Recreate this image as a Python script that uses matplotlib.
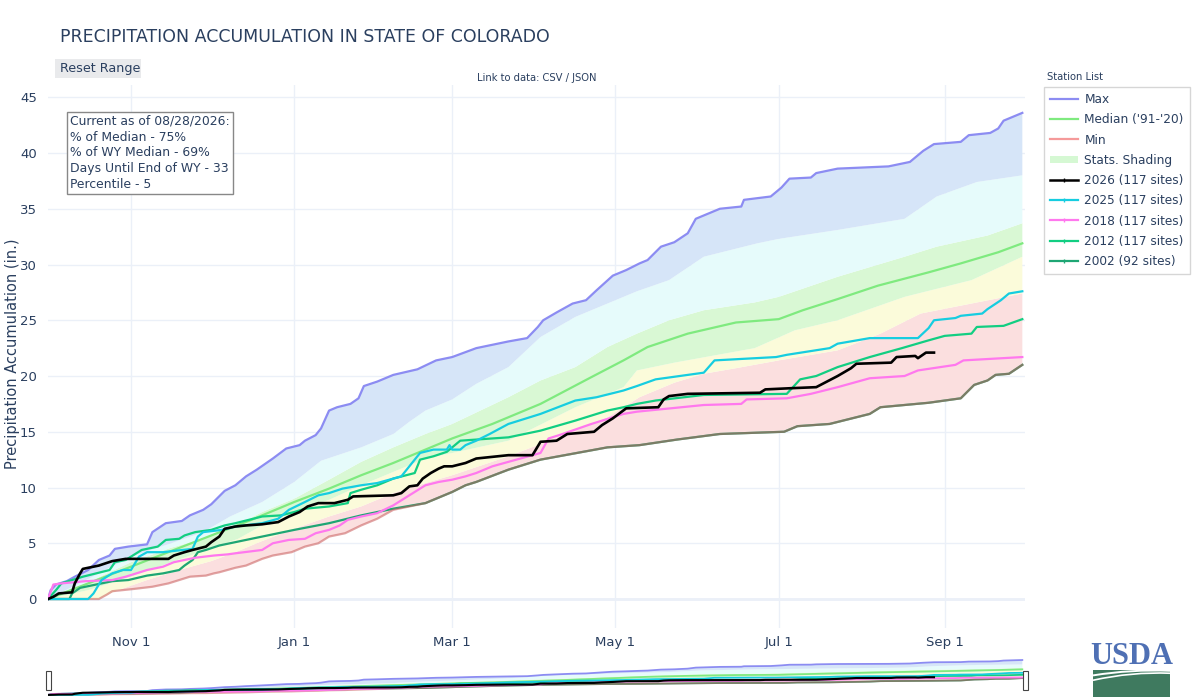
import numpy as np
import matplotlib
matplotlib.use('Agg')
import matplotlib.pyplot as plt
from matplotlib.lines import Line2D
from matplotlib.patches import Patch, Rectangle, PathPatch
from matplotlib.path import Path

# ---------------- data (day offsets from start of water year, inches) ----------------
WY_START = '2025-10-01'

max_days = [0, 1, 3, 7, 10, 15, 19, 23, 25, 30, 37, 39, 44, 50, 53, 58, 61, 66, 70, 74, 78, 84, 89, 94, 96,
            100, 102, 105, 108, 113, 116, 118, 123, 129, 138, 145, 151, 160, 172, 179, 183, 185, 190, 196,
            201, 205, 211, 216, 221, 224, 229, 234, 239, 242, 247, 251, 259, 260, 270, 274, 277, 285, 287,
            295, 314, 322, 327, 331, 341, 344, 352, 355, 357, 360, 364]
max_vals = [0, 0.8, 1.3, 1.6, 2.0, 2.6, 3.5, 3.9, 4.5, 4.7, 4.9, 6.0, 6.8, 7.0, 7.5, 8.0, 8.5, 9.7, 10.2, 11.0,
            11.6, 12.6, 13.5, 13.8, 14.2, 14.7, 15.3, 16.9, 17.2, 17.5, 18.0, 19.1, 19.5, 20.1, 20.6, 21.4,
            21.7, 22.5, 23.1, 23.4, 24.4, 25.0, 25.7, 26.5, 26.8, 27.7, 29.0, 29.5, 30.1, 30.4, 31.6, 32.0,
            32.8, 34.1, 34.6, 35.0, 35.2, 35.8, 36.1, 36.9, 37.7, 37.8, 38.2, 38.6, 38.8, 39.2, 40.2, 40.8,
            41.0, 41.6, 41.8, 42.2, 42.9, 43.2, 43.6]

p90_days = [0, 15, 31, 46, 58, 68, 80, 92, 102, 117, 129, 135, 141, 151, 160, 172, 184, 197, 209, 220, 232,
            245, 265, 273, 295, 320, 332, 347, 364]
p90_vals = [0, 1.8, 3.8, 5.0, 6.0, 7.4, 8.7, 10.5, 12.4, 13.6, 14.8, 15.9, 16.9, 17.9, 19.3, 20.8, 23.5,
            25.3, 26.5, 27.6, 28.6, 30.7, 31.9, 32.3, 33.1, 34.1, 36.1, 37.4, 38.0]

p70_days = [0, 15, 31, 46, 58, 71, 80, 92, 105, 117, 129, 141, 151, 172, 184, 197, 209, 220, 232, 245, 264,
            273, 295, 320, 332, 351, 364]
p70_vals = [0, 1.5, 3.3, 4.6, 5.4, 6.7, 7.8, 9.0, 10.7, 12.3, 13.6, 14.8, 15.7, 18.1, 19.6, 20.8, 22.6, 23.8,
            25.0, 25.9, 26.6, 27.1, 28.9, 30.7, 31.6, 32.6, 33.7]

median_days = [0, 15, 31, 46, 61, 76, 92, 105, 117, 129, 141, 151, 166, 184, 203, 215, 224, 239, 257, 273,
               282, 295, 310, 329, 341, 355, 364]
median_vals = [0, 1.4, 2.9, 4.3, 5.7, 7.1, 8.7, 9.9, 11.1, 12.2, 13.4, 14.4, 15.7, 17.5, 19.9, 21.4, 22.6,
               23.8, 24.8, 25.1, 25.9, 26.9, 28.1, 29.3, 30.1, 31.1, 31.9]

p30_days = [0, 15, 31, 46, 71, 80, 92, 105, 117, 129, 141, 151, 172, 197, 215, 220, 234, 264, 279, 295, 320,
            345, 364]
p30_vals = [0, 0.8, 2.0, 3.3, 5.4, 6.6, 7.8, 8.9, 10.2, 11.4, 12.6, 13.1, 14.2, 17.2, 19.0, 20.5, 21.2, 22.5,
            24.1, 25.0, 27.1, 28.6, 30.7]

p10_days = [0, 19, 24, 37, 49, 61, 70, 80, 92, 105, 117, 129, 141, 151, 172, 184, 209, 221, 234, 245, 257,
            273, 295, 311, 326, 345, 364]
p10_vals = [0, 0, 0.6, 1.7, 2.6, 3.4, 4.2, 5.2, 6.3, 7.4, 8.3, 9.5, 10.4, 11.1, 12.8, 13.9, 16.3, 18.1, 19.4,
            20.2, 20.7, 21.4, 22.3, 23.8, 25.6, 26.5, 27.4]

min_days = [0, 19, 22, 24, 32, 39, 45, 49, 53, 59, 62, 64, 70, 74, 80, 84, 91, 96, 101, 105, 111, 117, 123,
            129, 141, 151, 156, 160, 172, 184, 209, 221, 235, 251, 275, 280, 292, 307, 311, 329, 341, 346,
            351, 354, 359, 364]
min_vals = [0, 0, 0.4, 0.7, 0.9, 1.1, 1.4, 1.7, 2.0, 2.1, 2.3, 2.4, 2.8, 3.0, 3.6, 3.9, 4.2, 4.7, 5.0, 5.6,
            5.9, 6.6, 7.2, 8.0, 8.6, 9.6, 10.2, 10.5, 11.6, 12.5, 13.6, 13.8, 14.3, 14.8, 15.0, 15.5, 15.7,
            16.6, 17.2, 17.6, 18.0, 19.2, 19.6, 20.1, 20.2, 21.0]

y2026_days = [0, 2, 4, 9, 10, 12, 13, 15, 19, 24, 29, 45, 47, 51, 54, 59, 61, 64, 66, 70, 74, 80, 86, 90, 94,
              97, 101, 107, 112, 114, 129, 132, 135, 138, 140, 143, 146, 148, 151, 156, 160, 172, 181, 184,
              190, 194, 204, 207, 211, 216, 228, 230, 232, 239, 266, 268, 277, 287, 291, 295, 300, 302, 315,
              317, 324, 325, 328, 331]
y2026_vals = [0, 0.2, 0.5, 0.6, 1.4, 2.3, 2.7, 2.8, 3.0, 3.4, 3.6, 3.6, 3.9, 4.2, 4.4, 4.7, 5.1, 5.6, 6.3,
              6.5, 6.6, 6.7, 6.9, 7.4, 7.8, 8.3, 8.6, 8.6, 8.9, 9.2, 9.3, 9.5, 10.1, 10.2, 10.8, 11.3, 11.7,
              11.9, 11.9, 12.2, 12.6, 12.9, 12.9, 14.1, 14.2, 14.8, 15.0, 15.6, 16.2, 17.1, 17.2, 17.9, 18.2,
              18.4, 18.5, 18.8, 18.9, 19.0, 19.5, 20.0, 20.7, 21.1, 21.2, 21.7, 21.8, 21.6, 22.1, 22.1]

y2025_days = [0, 15, 17, 20, 24, 28, 31, 34, 37, 43, 54, 56, 58, 65, 70, 80, 86, 90, 96, 101, 105, 110, 117,
              123, 132, 135, 139, 144, 149, 150, 151, 154, 156, 160, 165, 172, 184, 197, 205, 215, 220, 227,
              245, 249, 272, 276, 292, 295, 307, 325, 329, 331, 339, 341, 349, 351, 356, 359, 364]
y2025_vals = [0, 0, 0.5, 1.7, 2.3, 2.6, 2.6, 3.8, 4.2, 4.2, 4.5, 5.6, 6.0, 6.2, 6.5, 6.8, 7.2, 8.0, 8.7, 9.3,
              9.5, 9.9, 10.2, 10.4, 11.0, 11.9, 13.1, 13.4, 13.4, 13.8, 13.4, 13.4, 13.8, 14.2, 14.8, 15.7,
              16.6, 17.8, 18.1, 18.7, 19.1, 19.7, 20.3, 21.4, 21.7, 21.9, 22.5, 22.9, 23.4, 23.4, 24.3, 25.0,
              25.2, 25.4, 25.6, 26.0, 26.8, 27.4, 27.6]

y2018_days = [0, 2, 5, 14, 24, 29, 33, 37, 43, 47, 51, 55, 62, 67, 70, 80, 84, 90, 96, 100, 105, 109, 112,
              117, 123, 129, 135, 141, 146, 151, 156, 160, 166, 175, 184, 187, 191, 203, 215, 220, 245, 259,
              261, 276, 285, 295, 307, 320, 325, 339, 342, 364]
y2018_vals = [0, 1.3, 1.4, 1.6, 1.7, 2.0, 2.3, 2.6, 2.9, 3.3, 3.5, 3.7, 3.9, 4.0, 4.1, 4.4, 5.0, 5.3, 5.4,
              5.9, 6.2, 6.6, 7.1, 7.4, 7.7, 8.4, 9.3, 10.2, 10.5, 10.7, 11.0, 11.3, 11.9, 12.5, 13.1, 14.4,
              14.7, 15.7, 16.6, 16.8, 17.4, 17.5, 17.9, 18.0, 18.4, 19.0, 19.8, 20.0, 20.5, 21.0, 21.4, 21.7]

y2012_days = [0, 3, 5, 9, 13, 18, 23, 25, 29, 35, 41, 44, 49, 51, 55, 61, 66, 70, 80, 87, 92, 96, 105, 112,
              113, 117, 123, 129, 137, 139, 144, 149, 154, 160, 172, 184, 197, 209, 215, 220, 227, 245, 276,
              281, 287, 295, 307, 319, 329, 335, 345, 347, 357, 364]
y2012_vals = [0, 0.8, 1.4, 1.7, 2.0, 2.3, 2.6, 3.3, 3.5, 4.4, 4.7, 5.3, 5.4, 5.7, 6.0, 6.2, 6.6, 6.8, 7.4,
              7.5, 7.8, 8.1, 8.3, 8.6, 9.5, 9.8, 10.2, 10.8, 11.3, 12.5, 12.8, 13.2, 14.2, 14.3, 14.5, 15.1,
              16.0, 16.9, 17.2, 17.5, 17.8, 18.3, 18.4, 19.7, 20.0, 20.8, 21.7, 22.5, 23.2, 23.6, 23.8, 24.4,
              24.5, 25.1]

y2002_days = [0, 8, 9, 12, 18, 24, 30, 37, 43, 49, 51, 54, 56, 59, 64, 70, 80, 92, 105, 117, 123, 129, 141,
              151, 156, 160, 172, 184, 209, 221, 235, 251, 275, 280, 292, 307, 311, 329, 341, 346, 351, 354,
              359, 364]
y2002_vals = [0, 0, 0.5, 1.0, 1.3, 1.6, 1.7, 2.1, 2.3, 2.6, 3.0, 3.5, 4.2, 4.4, 4.8, 5.1, 5.6, 6.2, 6.8, 7.5,
              7.8, 8.1, 8.6, 9.6, 10.2, 10.5, 11.6, 12.5, 13.6, 13.8, 14.3, 14.8, 15.0, 15.5, 15.7, 16.6,
              17.2, 17.6, 18.0, 19.2, 19.6, 20.1, 20.2, 21.0]

tick_dates = ['2025-11-01', '2026-01-01', '2026-03-01', '2026-05-01', '2026-07-01', '2026-09-01']
tick_labels = ['Nov 1', 'Jan 1', 'Mar 1', 'May 1', 'Jul 1', 'Sep 1']
y_ticks = [0, 5, 10, 15, 20, 25, 30, 35, 40, 45]

legend_labels = ['Max', "Median ('91-'20)", 'Min', 'Stats. Shading', '2026 (117 sites)',
                 '2025 (117 sites)', '2018 (117 sites)', '2012 (117 sites)', '2002 (92 sites)']
info_lines = ['Current as of 08/28/2026:', '% of Median - 75%', '% of WY Median - 69%',
              'Days Until End of WY - 33', 'Percentile - 5']

# ---------------- styling ----------------
TXT = '#2A3F5F'
GRID = '#EBF0F8'
C_MAX = '#8C8CF2'
C_MED = '#7FEA7F'
C_MIN = '#C85A5A'
C_MIN_LEG = '#F59A9A'
C_2026 = '#000000'
C_2025 = '#16CDE0'
C_2018 = '#FF78EE'
C_2012 = '#12CE82'
C_2002 = '#1EA674'
BAND_COLORS = ['#FBDFDF', '#FBFBDA', '#D9F8D4', '#E6FBFB', '#D6E5F8']

base = np.datetime64(WY_START)


def dates(days):
    return base + np.array(days, dtype='timedelta64[D]')


W, H = 1200, 700


def fx(px):
    return px / W


def fy(py):
    return 1 - py / H


fig = plt.figure(figsize=(12, 7), dpi=100)
fig.patch.set_facecolor('white')

bands = [(min_days, min_vals, p10_days, p10_vals),
         (p10_days, p10_vals, p30_days, p30_vals),
         (p30_days, p30_vals, p70_days, p70_vals),
         (p70_days, p70_vals, p90_days, p90_vals),
         (p90_days, p90_vals, max_days, max_vals)]


def draw_all(ax, lw_scale=1.0):
    for (ld, lv, ud, uv), col in zip(bands, BAND_COLORS):
        xs = np.concatenate([dates(ud), dates(ld)[::-1]])
        ys = np.concatenate([np.array(uv), np.array(lv)[::-1]])
        ax.fill(xs, ys, color=col, lw=0, zorder=1)
    ax.plot(dates(max_days), max_vals, color=C_MAX, lw=1.6 * lw_scale, zorder=3)
    ax.plot(dates(median_days), median_vals, color=C_MED, lw=1.6 * lw_scale, zorder=3)
    ax.plot(dates(y2002_days), y2002_vals, color=C_2002, lw=1.6 * lw_scale, zorder=4)
    ax.plot(dates(min_days), min_vals, color=C_MIN, lw=1.6 * lw_scale, alpha=0.55, zorder=5)
    ax.plot(dates(y2012_days), y2012_vals, color=C_2012, lw=1.6 * lw_scale, zorder=6)
    ax.plot(dates(y2018_days), y2018_vals, color=C_2018, lw=1.6 * lw_scale, zorder=6)
    ax.plot(dates(y2025_days), y2025_vals, color=C_2025, lw=1.6 * lw_scale, zorder=7)
    ax.plot(dates(y2026_days), y2026_vals, color=C_2026, lw=1.9 * lw_scale, zorder=8)


# ---------------- main axes ----------------
ax = fig.add_axes([fx(48), fy(628), fx(1025) - fx(48), fy(85) - fy(628)])
draw_all(ax)
ax.set_xlim(base, base + np.timedelta64(365, 'D'))
ax.set_ylim(-2.6, 46.1)
ax.set_xticks(dates([(np.datetime64(d) - base).astype(int) for d in tick_dates]))
ax.set_xticklabels(tick_labels)
ax.set_yticks(y_ticks)
ax.tick_params(length=0, labelcolor=TXT, labelsize=9.5)
ax.tick_params(axis='y', pad=8)
ax.tick_params(axis='x', pad=6)
ax.grid(True, color=GRID, lw=1, zorder=0)
ax.set_axisbelow(True)
ax.axhline(0, color=GRID, lw=2, zorder=0.5)
for s in ax.spines.values():
    s.set_visible(False)

fig.text(fx(13), fy(354), 'Precipitation Accumulation (in.)', rotation=90, ha='center', va='center',
         fontsize=10.5, color=TXT)

# info box
fig.text(fx(70), fy(153), '\n'.join(info_lines), ha='left', va='center', fontsize=8.9, color=TXT,
         linespacing=1.28,
         bbox=dict(boxstyle='square,pad=0.25', facecolor='white', edgecolor='#888888', lw=1))

# title and controls
fig.text(fx(60), fy(37), 'PRECIPITATION ACCUMULATION IN STATE OF COLORADO', ha='left', va='center',
         fontsize=12.5, color=TXT)
fig.patches.append(Rectangle((fx(55), fy(78)), fx(141) - fx(55), fy(59) - fy(78), transform=fig.transFigure,
                             facecolor='#E9EAEC', edgecolor='none'))
fig.text(fx(60), fy(68.5), 'Reset Range', ha='left', va='center', fontsize=9.2, color=TXT)
fig.text(fx(537), fy(78), 'Link to data: CSV / JSON', ha='center', va='center', fontsize=7.2, color=TXT)

# legend
handles = [Line2D([], [], color=C_MAX, lw=1.6),
           Line2D([], [], color=C_MED, lw=1.6),
           Line2D([], [], color=C_MIN_LEG, lw=1.6),
           Patch(facecolor='#D5F8D3', edgecolor='none'),
           Line2D([], [], color=C_2026, lw=1.8, marker='|', ms=3),
           Line2D([], [], color=C_2025, lw=1.6, marker='|', ms=3),
           Line2D([], [], color=C_2018, lw=1.6, marker='|', ms=3),
           Line2D([], [], color=C_2012, lw=1.6, marker='|', ms=3),
           Line2D([], [], color=C_2002, lw=1.6, marker='|', ms=3)]
leg = fig.legend(handles, legend_labels, loc='upper left', bbox_to_anchor=(fx(1044), fy(87)),
                 frameon=True, fancybox=False, fontsize=8.7, labelcolor=TXT, handlelength=2.3,
                 handleheight=0.6, handletextpad=0.55, borderpad=0.5, labelspacing=0.6,
                 borderaxespad=0)
leg.get_frame().set_edgecolor('#CCCCCC')
leg.get_frame().set_linewidth(1)
fig.text(fx(1047), fy(77), 'Station List', ha='left', va='center', fontsize=7.2, color=TXT)

# ---------------- range slider ----------------
ax2 = fig.add_axes([fx(48), fy(697), fx(1025) - fx(48), fy(658) - fy(697)])
draw_all(ax2, lw_scale=0.8)
ax2.set_xlim(base, base + np.timedelta64(365, 'D'))
ax2.set_ylim(-2.6, 46.1)
ax2.set_xticks([])
ax2.set_yticks([])
for s in ax2.spines.values():
    s.set_visible(False)
for hx in (48, 1025):
    fig.patches.append(Rectangle((fx(hx - 2.5), fy(690)), fx(5), fy(671) - fy(690), transform=fig.transFigure,
                                 facecolor='white', edgecolor='#444444', lw=0.8, zorder=10))

# ---------------- USDA logo ----------------
fig.text(fx(1132), fy(656), 'USDA', ha='center', va='center', fontsize=22, fontweight='bold',
         family=['Liberation Serif', 'DejaVu Serif'], color='#4F70B4')
lax = fig.add_axes([fx(1093), fy(697), fx(1170) - fx(1093), fy(670) - fy(697)])
lax.set_xlim(0, 1)
lax.set_ylim(0, 1)
lax.axis('off')
lax.add_patch(Rectangle((0, 0), 1, 1, facecolor='#3F7A5F', edgecolor='none'))
for y0, y1, lw in ((0.80, 0.97, 1.4), (0.62, 0.88, 1.2)):
    p = Path([(0, y0), (0.5, y1 + 0.06), (1.0, y1)], [Path.MOVETO, Path.CURVE3, Path.CURVE3])
    lax.add_patch(PathPatch(p, facecolor='none', edgecolor='white', lw=lw))

fig.savefig('out.png', dpi=100)
